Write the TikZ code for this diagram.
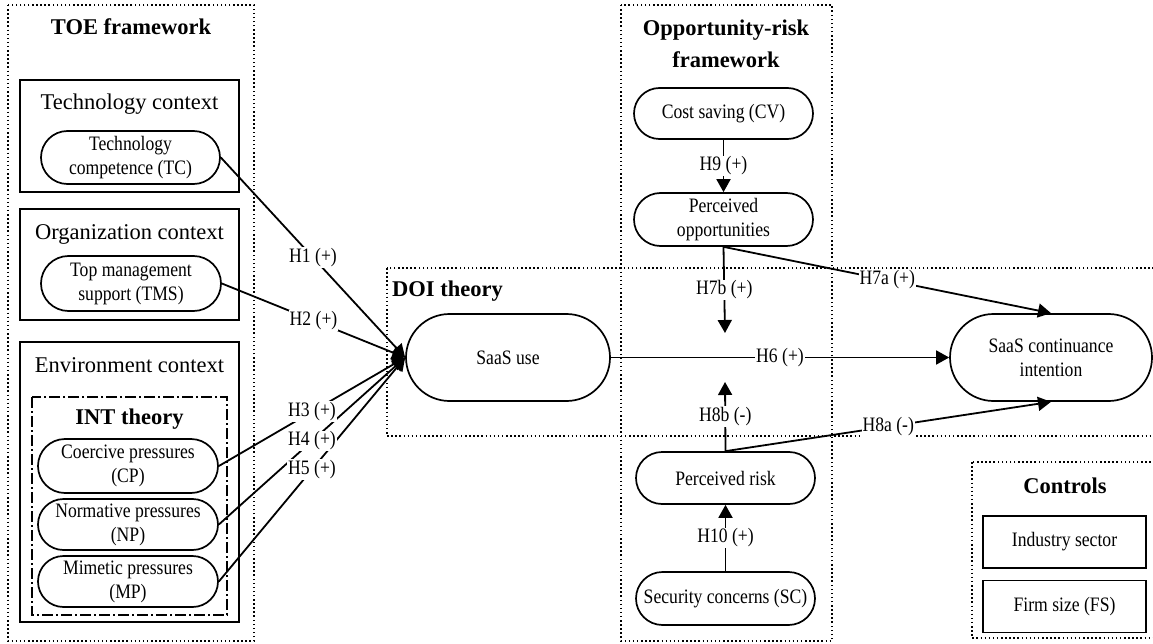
\documentclass[tikz,border=0pt]{standalone}
\usepackage{fontspec}
\setmainfont{Liberation Serif}
\newfontfamily\narrowserif[FakeStretch=0.86]{Liberation Serif}
\usetikzlibrary{arrows.meta}

\tikzset{
  x=1pt, y=-1pt,
  frame/.style={draw, line width=1.5pt, dash pattern=on 1.5pt off 2.6pt},
  ctxbox/.style={draw, line width=1.8pt},
  intbox/.style={draw, line width=1.5pt, dash pattern=on 11pt off 3pt on 2pt off 3pt},
  pill/.style args={#1x#2}{draw, line width=1.7pt, fill=white, rectangle, inner sep=0pt,
    minimum width=#1pt, minimum height=#2pt, rounded corners=#2pt/2,
    align=center, font=\narrowserif\fontsize{20.5}{24}\selectfont},
  ctrl/.style={draw, line width=1.7pt, fill=white, inner sep=0pt,
    minimum width=163pt, minimum height=52pt, font=\narrowserif\fontsize{20.5}{24}\selectfont},
  ctxtitle/.style={inner sep=0pt, font=\fontsize{22.5}{26}\selectfont},
  bigtitle/.style={inner sep=0pt, align=center, font=\fontsize{22.5}{32}\selectfont\bfseries},
  conn/.style={line width=1.8pt, -{Triangle[length=13pt,width=14pt]}},
  lbl/.style={fill=white, inner sep=1pt, font=\narrowserif\fontsize{20.5}{22}\selectfont},
}

\begin{document}
\begin{tikzpicture}
\useasboundingbox (0,0) rectangle (1153,644);

% framework frames
\draw[frame] (8,5) rectangle (254,641);
\draw[frame] (621,5) rectangle (832,641);
\draw[frame] (387,268) rectangle (1158,436);
\draw[frame] (972,462) rectangle (1158,638);

% TOE contexts
\draw[ctxbox] (20,80) rectangle (239,192);
\draw[ctxbox] (20,209) rectangle (239,320);
\draw[ctxbox] (20,342) rectangle (239,622);
\draw[intbox] (32,397) rectangle (227,615);

% titles
\node[bigtitle] (toeT) at (131,27) {TOE framework};
\node[ctxtitle] (techT) at (129.5,104) {Technology context};
\node[ctxtitle] (orgT) at (129.5,234) {Organization context};
\node[ctxtitle] (envT) at (129.5,365) {Environment context};
\node[bigtitle] (intT) at (129.5,419) {INT theory};
\node[bigtitle, anchor=west] (doiT) at (392,291) {DOI theory};
\node[bigtitle] (orT) at (726,44) {Opportunity-risk\\framework};
\node[bigtitle] (ctrlT) at (1065,486) {Controls};

% constructs
\node[pill=179x53] (TC) at (130.5,157.5) {Technology\\competence (TC)};
\node[pill=180x55] (TMS) at (131,283.5) {Top management\\support (TMS)};
\node[pill=180x54] (CP) at (128,466) {Coercive pressures\\(CP)};
\node[pill=180x51] (NP) at (128,524.5) {Normative pressures\\(NP)};
\node[pill=180x51] (MP) at (128,581.5) {Mimetic pressures\\(MP)};
\node[pill=204x87] (SU) at (508,357.5) {SaaS use};
\node[pill=179x51] (CV) at (723.5,113.5) {Cost saving (CV)};
\node[pill=179x53] (PO) at (723.5,219.5) {Perceived\\opportunities};
\node[pill=179x52] (PR) at (725.5,478) {Perceived risk};
\node[pill=179x53] (SC) at (725.5,598.5) {Security concerns (SC)};
\node[pill=202x87] (SCI) at (1051,357.5) {SaaS continuance\\intention};
\node[ctrl] (IS) at (1064.5,542) {Industry sector};
\node[ctrl] (FS) at (1064.5,606.5) {Firm size (FS)};

% moderation targets on the H6 path
\coordinate (m7) at (725,333);
\coordinate (m8) at (725,382);

% paths
\draw[conn] (TC.east) -- (SU.west);
\draw[conn] (TMS.east) -- (SU.west);
\draw[conn] (CP.east) -- (SU.west);
\draw[conn] (NP.east) -- (SU.west);
\draw[conn] (MP.east) -- (SU.west);
\draw[conn] (SU.east) -- (SCI.west);
\draw[conn] (CV.south) -- (PO.north);
\draw[conn] (SC.north) -- (PR.south);
\draw[conn] (PO.south) -- (m7);
\draw[conn] (PR.north) -- (m8);
\draw[conn] (PO.south) -- (SCI.north);
\draw[conn] (PR.north) -- (SCI.south);

% hypothesis labels
\path (TC.east) -- node[lbl] (h1) {H1 (+)} (SU.west);
\path (TMS.east) -- node[lbl] (h2) {H2 (+)} (SU.west);
\path (CP.east) -- node[lbl] (h3) {H3 (+)} (SU.west);
\path (NP.east) -- node[lbl] (h4) {H4 (+)} (SU.west);
\path (MP.east) -- node[lbl] (h5) {H5 (+)} (SU.west);
\path (SU.east) -- node[lbl] (h6) {H6 (+)} (SCI.west);
\path (CV.south) -- node[lbl] (h9) {H9 (+)} (PO.north);
\path (SC.north) -- node[lbl] (h10) {H10 (+)} (PR.south);
\path (PO.south) -- node[lbl] (h7b) {H7b (+)} (m7);
\path (PR.north) -- node[lbl] (h8b) {H8b (-)} (m8);
\path (PO.south) -- node[lbl] (h7a) {H7a (+)} (SCI.north);
\path (PR.north) -- node[lbl] (h8a) {H8a (-)} (SCI.south);
\end{tikzpicture}
\end{document}
